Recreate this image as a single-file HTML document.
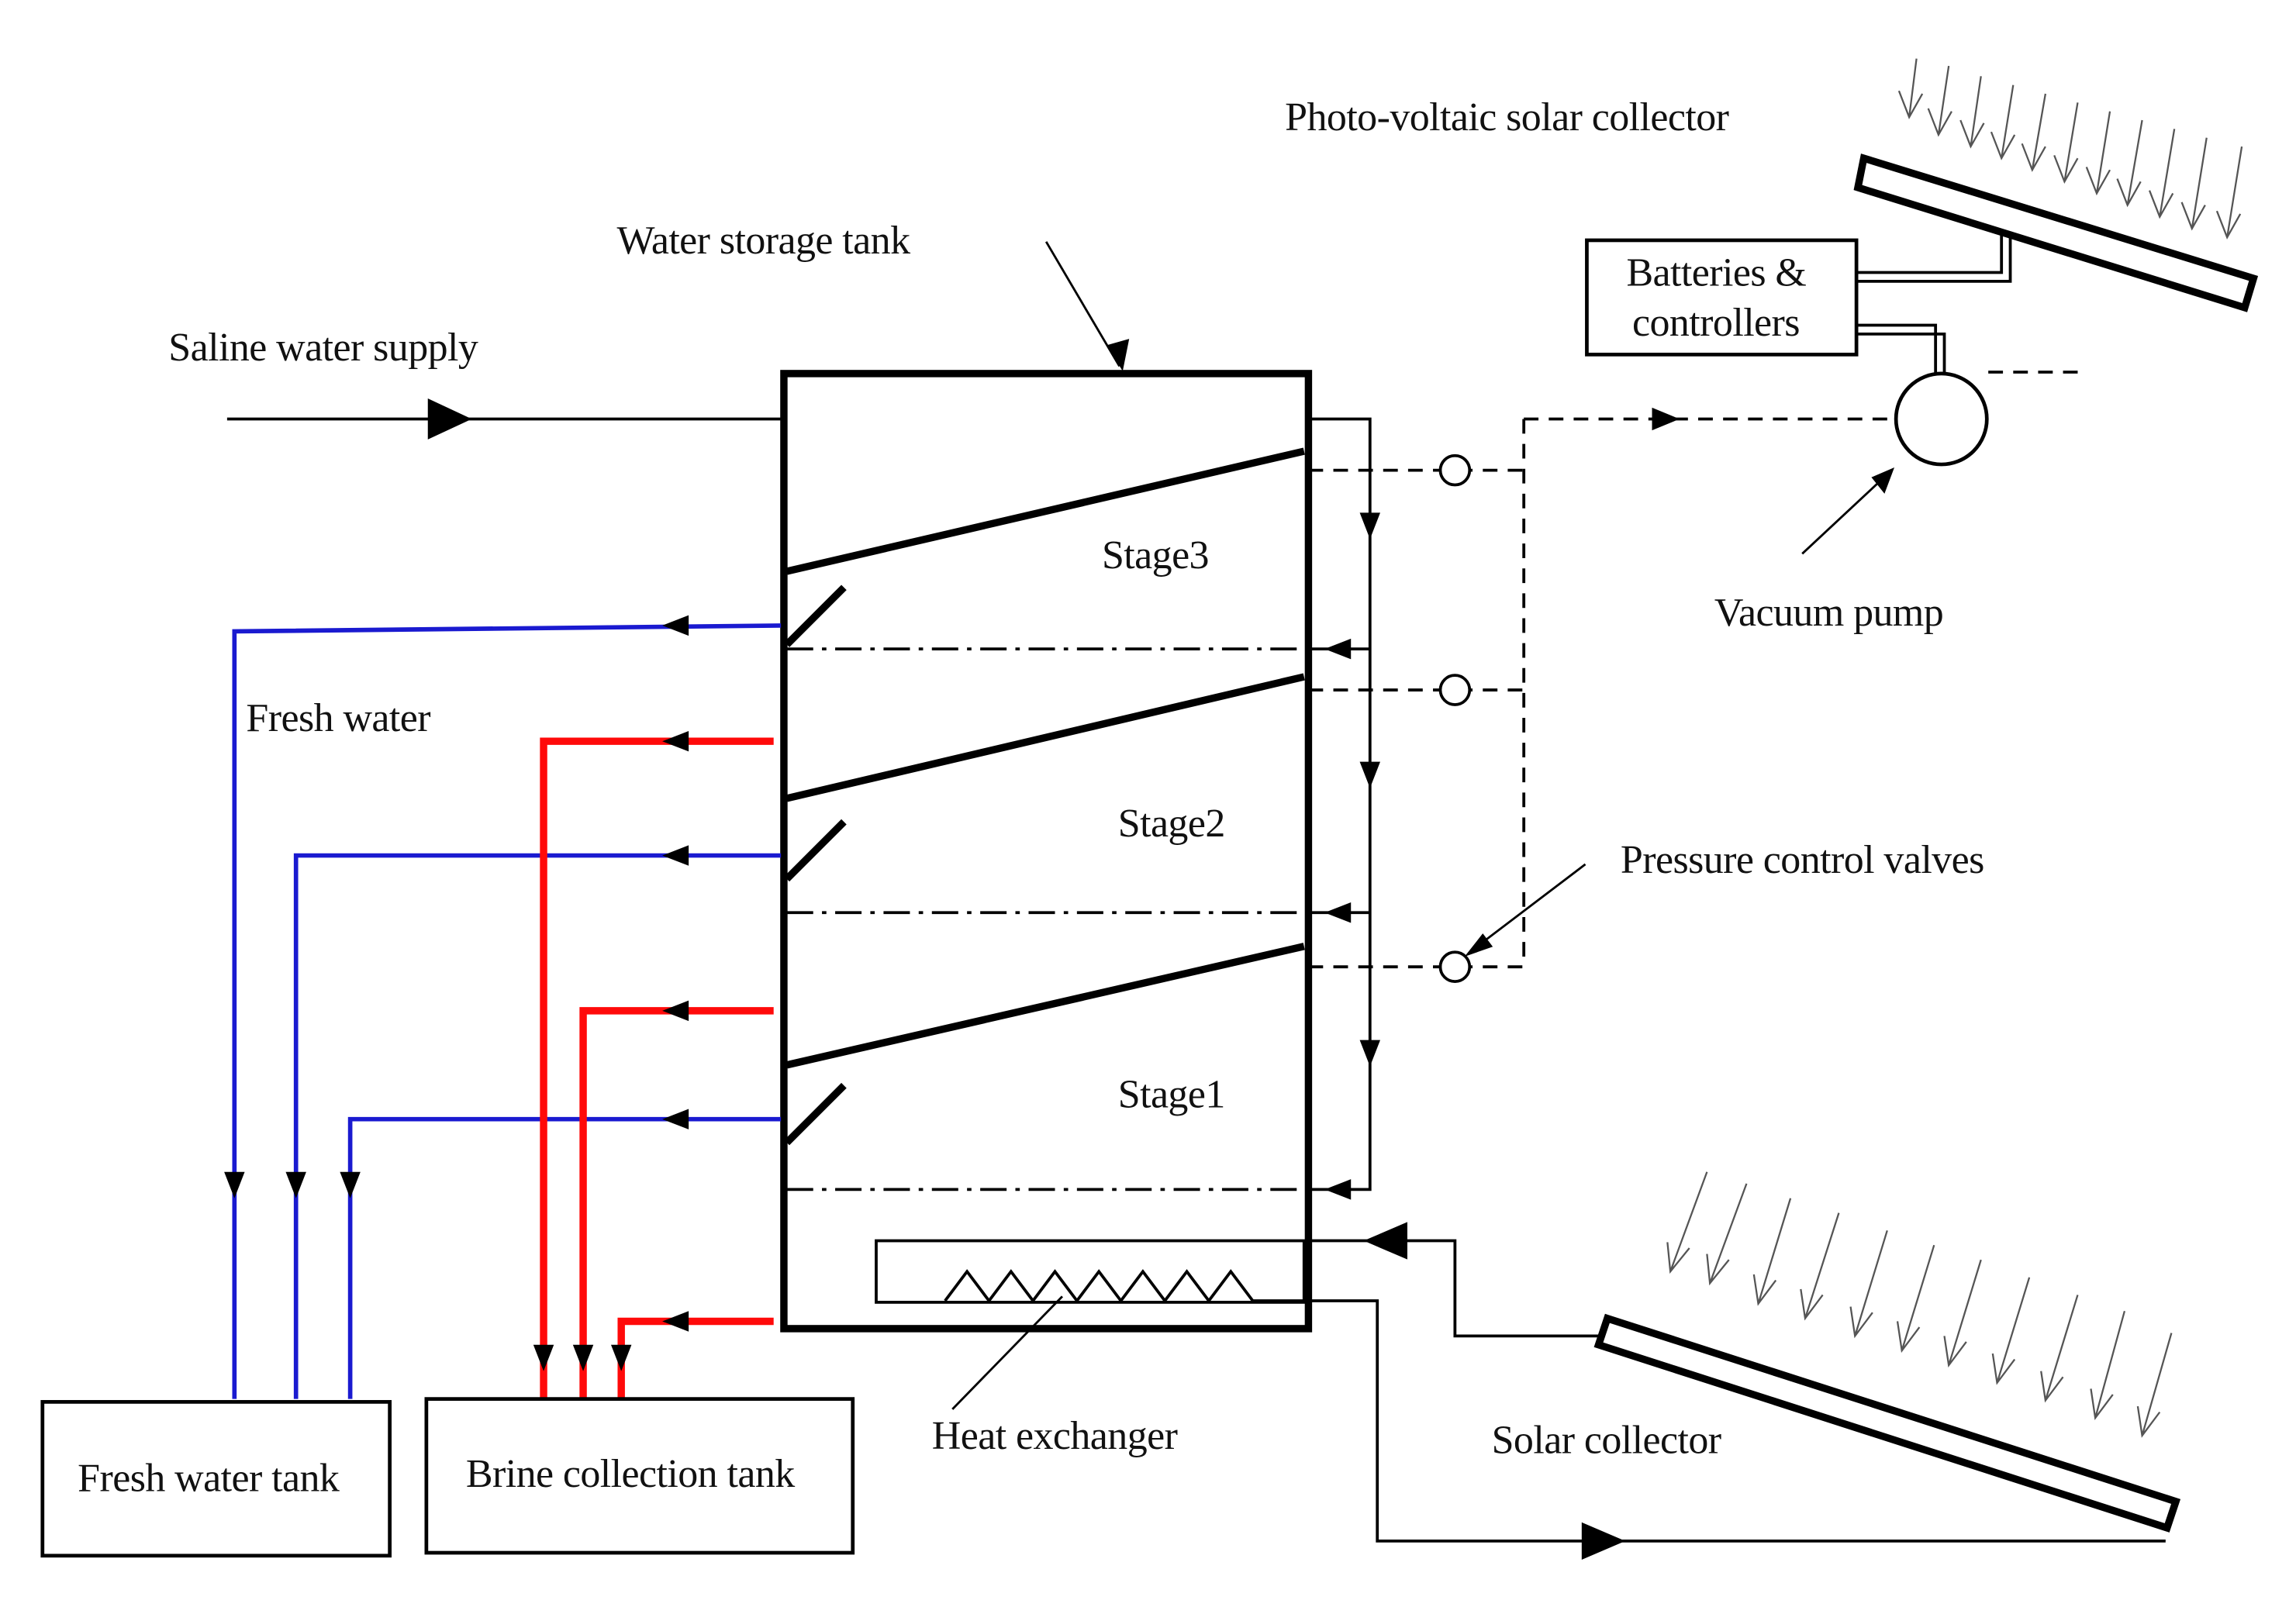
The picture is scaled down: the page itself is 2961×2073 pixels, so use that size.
<!DOCTYPE html>
<html><head><meta charset="utf-8"><style>
html,body{margin:0;padding:0;background:#fff;}
svg{display:block;}
text{font-family:"Liberation Serif",serif;font-size:27.5px;fill:#111;letter-spacing:-0.3px;}
</style></head><body>
<svg width="2961" height="2073" viewBox="0 0 1567 1097" xmlns="http://www.w3.org/2000/svg">
<g fill="none" stroke="#000">
<rect x="535" y="255" width="358" height="652" stroke-width="5"/>
<g stroke-width="5">
<line x1="537" y1="390" x2="890" y2="308"/>
<line x1="537" y1="545" x2="890" y2="462"/>
<line x1="537" y1="727" x2="890" y2="646"/>
<line x1="537" y1="440" x2="576" y2="401"/>
<line x1="537" y1="600" x2="576" y2="561"/>
<line x1="537" y1="780" x2="576" y2="741"/>
</g>
<g stroke-width="2" stroke-dasharray="18,6,3,6">
<line x1="537" y1="443" x2="893" y2="443"/>
<line x1="537" y1="623" x2="893" y2="623"/>
<line x1="537" y1="812" x2="893" y2="812"/>
</g>
<line x1="155" y1="286" x2="533" y2="286" stroke-width="2"/>
<path d="M292,272L322,286L292,300z" fill="#000" stroke="none"/>
<line x1="714" y1="165" x2="764" y2="250" stroke-width="1.5"/>
<path d="M756,236L766,252L770,232z" fill="#000"/>
<polyline points="893,286 935,286 935,812 893,812" stroke-width="2"/>
<line x1="935" y1="443" x2="893" y2="443" stroke-width="2"/>
<line x1="935" y1="623" x2="893" y2="623" stroke-width="2"/>
<g fill="#000" stroke="none">
<path d="M928,350L942,350L935,368z"/><path d="M928,520L942,520L935,538z"/><path d="M928,710L942,710L935,728z"/>
<path d="M922,436L922,450L904,443z"/><path d="M922,616L922,630L904,623z"/><path d="M922,805L922,819L904,812z"/>
</g>
<g stroke-width="2" stroke-dasharray="10,7">
<line x1="893" y1="321" x2="1040" y2="321"/>
<line x1="893" y1="471" x2="1040" y2="471"/>
<line x1="893" y1="660" x2="1040" y2="660"/>
<line x1="1040" y1="286" x2="1040" y2="660"/>
<line x1="1040" y1="286" x2="1292" y2="286"/>
<line x1="1357" y1="254" x2="1422" y2="254"/>
</g>
<path d="M1128,279L1145,286L1128,293z" fill="#000"/>
<circle cx="993" cy="321" r="10" stroke-width="2" fill="#fff"/>
<circle cx="993" cy="471" r="10" stroke-width="2" fill="#fff"/>
<circle cx="993" cy="660" r="10" stroke-width="2" fill="#fff"/>
<circle cx="1325" cy="286" r="31" stroke-width="2.5" fill="#fff"/>
<line x1="1230" y1="378" x2="1290" y2="322" stroke-width="1.5"/>
<path d="M1278,326L1292,320L1286,336z" fill="#000"/>
<line x1="1082" y1="590" x2="1003" y2="650" stroke-width="1.5"/>
<path d="M1012,638L1001,652L1018,646z" fill="#000"/>
<rect x="1083" y="164" width="184" height="78" stroke-width="2.5"/>
<g stroke-width="2">
<polyline points="1267,186 1366,186 1366,158"/>
<polyline points="1267,192 1372,192 1372,158"/>
<polyline points="1267,222 1321,222 1321,256"/>
<polyline points="1267,228 1327,228 1327,256"/>
</g>
<polygon points="1272,108 1538,190 1532,210 1268,128" stroke-width="5"/>
<rect x="598" y="847" width="292" height="42" stroke-width="2" fill="#fff"/>
<polyline points="645,888 660,868 675,888 690,868 705,888 720,868 735,888 750,868 765,888 780,868 795,888 810,868 825,888 840,868 855,888 893,888" stroke-width="2"/>
<line x1="650" y1="962" x2="725" y2="885" stroke-width="1.5"/>
<polyline points="893,847 993,847 993,912 1092,912" stroke-width="2"/>
<path d="M960,835L960,859L932,847z" fill="#000"/>
<polyline points="893,888 940,888 940,1052 1478,1052" stroke-width="2"/>
<path d="M1080,1040L1108,1052L1080,1064z" fill="#000"/>
<polygon points="1097,900 1485,1025 1479,1043 1091,918" stroke-width="5"/>
<g stroke="#1a1ad0" stroke-width="3">
<polyline points="533,427 160,431 160,955"/>
<polyline points="533,584 202,584 202,955"/>
<polyline points="533,764 239,764 239,955"/>
</g>
<g stroke="#ff0a0a" stroke-width="5">
<polyline points="528,506 371,506 371,955"/>
<polyline points="528,690 398,690 398,955"/>
<polyline points="528,902 424,902 424,955"/>
</g>
<g fill="#000" stroke="none">
<path d="M470,420L470,434L452,427z"/><path d="M470,577L470,591L452,584z"/><path d="M470,757L470,771L452,764z"/>
<path d="M470,499L470,513L452,506z"/><path d="M470,683L470,697L452,690z"/><path d="M470,895L470,909L452,902z"/>
<path d="M153,800L167,800L160,818z"/><path d="M195,800L209,800L202,818z"/><path d="M232,800L246,800L239,818z"/>
<path d="M364,918L378,918L371,936z"/><path d="M391,918L405,918L398,936z"/><path d="M417,918L431,918L424,936z"/>
</g>
<rect x="29" y="957" width="237" height="105" stroke-width="2.5"/>
<rect x="291" y="955" width="291" height="105" stroke-width="2.5"/>
<g stroke="#555" stroke-width="1.2">
<path d="M1308,40L1303,80M1296,62L1303,80L1312,64"/>
<path d="M1330,45L1323,92M1316,74L1323,92L1332,76"/>
<path d="M1352,52L1345,100M1338,82L1345,100L1354,84"/>
<path d="M1374,58L1366,108M1359,90L1366,108L1375,92"/>
<path d="M1396,64L1387,116M1380,98L1387,116L1396,100"/>
<path d="M1418,70L1409,124M1402,106L1409,124L1418,108"/>
<path d="M1440,76L1431,132M1424,114L1431,132L1440,116"/>
<path d="M1462,82L1452,140M1445,122L1452,140L1461,124"/>
<path d="M1484,88L1474,148M1467,130L1474,148L1483,132"/>
<path d="M1506,94L1496,156M1489,138L1496,156L1505,140"/>
<path d="M1530,100L1520,162M1513,144L1520,162L1529,146"/>
</g>
<g stroke="#555" stroke-width="1.2">
<path d="M1165,800L1140,868M1138,848L1140,868L1153,852"/>
<path d="M1192,808L1167,876M1165,856L1167,876L1180,860"/>
<path d="M1222,818L1200,890M1197,870L1200,890L1212,874"/>
<path d="M1255,828L1232,900M1229,880L1232,900L1244,884"/>
<path d="M1288,840L1266,912M1263,892L1266,912L1278,896"/>
<path d="M1320,850L1298,922M1295,902L1298,922L1310,906"/>
<path d="M1352,860L1330,932M1327,912L1330,932L1342,916"/>
<path d="M1385,872L1363,944M1360,924L1363,944L1375,928"/>
<path d="M1418,884L1396,956M1393,936L1396,956L1408,940"/>
<path d="M1450,895L1430,968M1427,948L1430,968L1442,952"/>
<path d="M1482,910L1462,980M1459,960L1462,980L1474,964"/>
</g>
</g>
<text x="877" y="89">Photo-voltaic solar collector</text>
<text x="421" y="173">Water storage tank</text>
<text x="115" y="246">Saline water supply</text>
<text x="1110" y="195">Batteries &amp;</text>
<text x="1114" y="229">controllers</text>
<text x="1170" y="427">Vacuum pump</text>
<text x="1106" y="596">Pressure control valves</text>
<text x="752" y="388">Stage3</text>
<text x="763" y="571">Stage2</text>
<text x="763" y="756">Stage1</text>
<text x="168" y="499">Fresh water</text>
<text x="636" y="989">Heat exchanger</text>
<text x="1018" y="992">Solar collector</text>
<text x="53" y="1018">Fresh water tank</text>
<text x="318" y="1015">Brine collection tank</text>
</svg>
</body></html>
